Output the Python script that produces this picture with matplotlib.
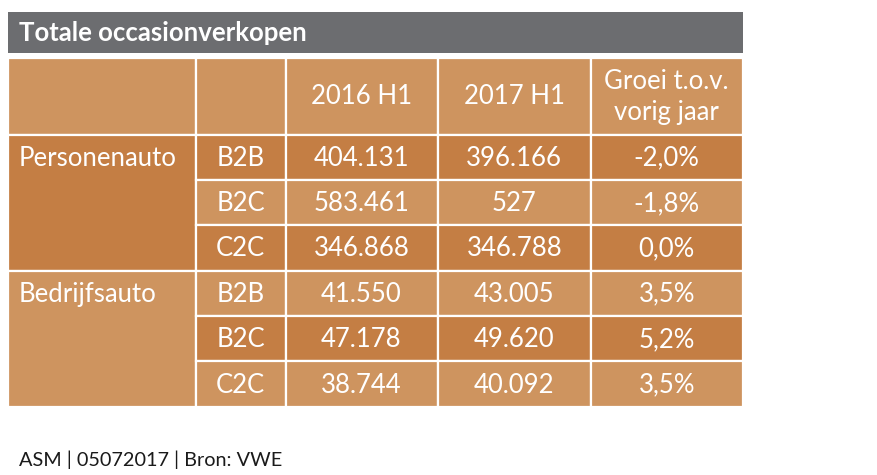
import matplotlib
matplotlib.use("Agg")
import matplotlib.pyplot as plt
from matplotlib.patches import Rectangle

plt.rcParams['font.family'] = ['Lato', 'DejaVu Sans']

# ---- data ----
title = "Totale occasionverkopen"
headers = ["", "", "2016 H1", "2017 H1", "Groei t.o.v.\nvorig jaar"]
groups = ["Personenauto", "Bedrijfsauto"]
segments = ["B2B", "B2C", "C2C"]
sales_2016 = [404131, 583461, 346868, 41550, 47178, 38744]
sales_2017 = [396166, 527, 346788, 43005, 49620, 40092]
growth = [-2.0, -1.8, 0.0, 3.5, 5.2, 3.5]
footer = "ASM | 05072017 | Bron: VWE"

# ---- layout (pixels) ----
W, H = 877, 475
col_edges = [8, 195.5, 285.5, 437.5, 591, 742.5]
title_top, title_bot = 11.5, 53
header_top, header_bot = 57.5, 134.5
row_h = (406.7 - header_bot) / 6

LIGHT = "#CE945F"
DARK = "#C47E44"
GREY = "#6C6D70"

def fmt_int(v):
    return f"{v:,}".replace(",", ".")

def fmt_pct(v):
    return f"{v:.1f}%".replace(".", ",")

fig = plt.figure(figsize=(W / 100, H / 100), dpi=100)
ax = fig.add_axes([0, 0, 1, 1])
ax.set_xlim(0, W)
ax.set_ylim(H, 0)
ax.axis("off")

# title bar
ax.add_patch(Rectangle((col_edges[0], title_top), col_edges[-1] - col_edges[0],
                       title_bot - title_top, facecolor=GREY, edgecolor="none"))
ax.text(col_edges[0] + 11, (title_top + title_bot) / 2 + 1, title, color="white",
        fontsize=18.5, fontweight="bold", va="center", ha="left")

lw = 1.6

def cell(x0, x1, y0, y1, color):
    ax.add_patch(Rectangle((x0, y0), x1 - x0, y1 - y0, facecolor=color,
                           edgecolor="white", linewidth=lw))

fs = 18.5
# header
for i, h in enumerate(headers):
    x0, x1 = col_edges[i], col_edges[i + 1]
    cell(x0, x1, header_top, header_bot, LIGHT)
    if h:
        ax.text((x0 + x1) / 2, (header_top + header_bot) / 2 + 1, h, color="white",
                fontsize=fs, ha="center", va="center", linespacing=1.3)

# body
n_seg = len(segments)
for g, gname in enumerate(groups):
    gy0 = header_bot + g * n_seg * row_h
    gy1 = gy0 + n_seg * row_h
    gcol = DARK if g == 0 else LIGHT
    cell(col_edges[0], col_edges[1], gy0, gy1, gcol)
    ax.text(col_edges[0] + 11, gy0 + row_h / 2 + 1, gname, color="white",
            fontsize=fs, ha="left", va="center")
    for s, sname in enumerate(segments):
        k = g * n_seg + s
        y0 = gy0 + s * row_h
        y1 = y0 + row_h
        dark = (s % 2 == 0) if g == 0 else (s % 2 == 1)
        color = DARK if dark else LIGHT
        vals = [sname, fmt_int(sales_2016[k]), fmt_int(sales_2017[k]), fmt_pct(growth[k])]
        for c, v in enumerate(vals):
            x0, x1 = col_edges[c + 1], col_edges[c + 2]
            cell(x0, x1, y0, y1, color)
            ax.text((x0 + x1) / 2, (y0 + y1) / 2 + 1, v, color="white",
                    fontsize=fs, ha="center", va="center")

ax.text(19, 460, footer, color="#1a1a1a", fontsize=14.3, ha="left", va="center")

fig.savefig("out.png", dpi=100)
